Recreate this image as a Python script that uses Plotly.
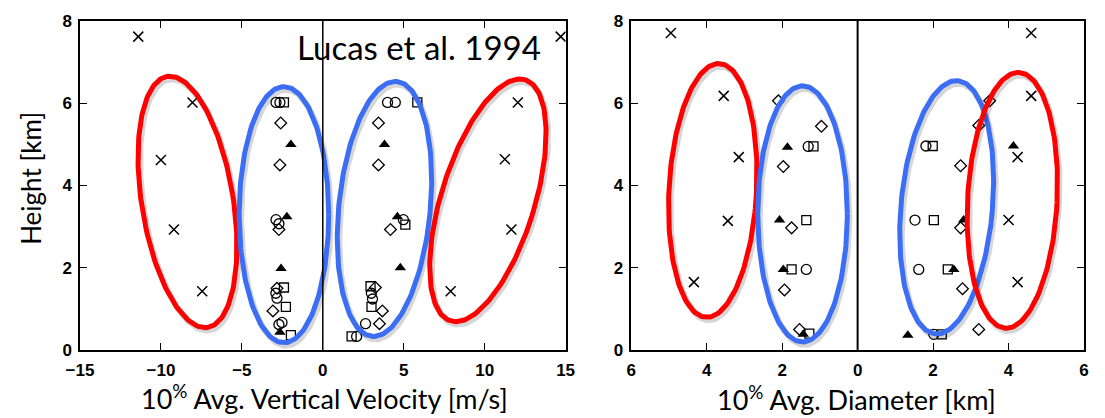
import numpy as np
import plotly.graph_objects as go

# ---------------- data: left panel (10% avg vertical velocity, m/s vs height, km)
vel_x_x = [-11.4, -8.05, -10.0, -9.2, -7.45, 14.7, 12.05, 11.25, 11.65, 7.9]
vel_x_y = [7.62, 6.02, 4.62, 2.93, 1.43, 7.62, 6.02, 4.64, 2.93, 1.43]
vel_circ_x = [-2.89, -2.65, 4.0, 4.48, -2.89, -2.71, -2.9, -2.83, -2.52, -2.71, 4.98, 3.0, 3.07, 2.64, 2.09]
vel_circ_y = [6.02, 6.02, 6.02, 6.02, 3.17, 3.07, 1.38, 1.26, 0.67, 0.62, 3.17, 1.38, 1.24, 0.64, 0.33]
vel_sq_x = [-2.4, 5.84, -2.4, -2.28, -1.97, 5.1, 2.95, 3.01, 1.78]
vel_sq_y = [6.02, 6.02, 1.52, 1.05, 0.36, 3.05, 1.55, 1.05, 0.33]
vel_dia_x = [-2.6, -2.65, -2.71, -2.83, -3.08, 3.44, 3.44, 4.18, 3.25, 3.68, 3.5]
vel_dia_y = [5.52, 4.5, 2.93, 1.5, 0.95, 5.52, 4.5, 2.93, 1.52, 0.95, 0.64]
vel_tri_x = [-1.97, -2.22, -2.58, -2.65, 3.81, 4.61, 4.79]
vel_tri_y = [5.0, 3.24, 1.98, 0.43, 5.0, 3.24, 2.0]

# ---------------- data: right panel (10% avg diameter, km; left half plotted as negative)
dia_x_x = [-4.95, -3.55, -3.15, -3.44, -4.34, 4.6, 4.6, 4.24, 4.0, 4.24]
dia_x_y = [7.71, 6.18, 4.69, 3.14, 1.65, 7.71, 6.18, 4.69, 3.16, 1.65]
dia_circ_x = [-1.31, -1.36, 1.81, 1.52, 1.62, 2.02]
dia_circ_y = [4.95, 1.96, 4.96, 3.16, 1.96, 0.38]
dia_sq_x = [-1.17, -1.36, -1.75, -1.28, 1.99, 2.02, 2.39, 2.23]
dia_sq_y = [4.95, 3.16, 1.96, 0.40, 4.96, 3.16, 1.96, 0.38]
dia_dia_x = [-2.10, -0.96, -1.97, -1.75, -1.94, -1.54, 3.5, 3.21, 2.73, 2.73, 2.78, 3.21]
dia_dia_y = [6.06, 5.44, 4.46, 2.97, 1.46, 0.5, 6.06, 5.46, 4.48, 2.97, 1.49, 0.5]
dia_tri_x = [-1.86, -2.07, -1.97, -1.44, 4.13, 2.81, 2.55, 1.33]
dia_tri_y = [4.93, 3.16, 1.96, 0.38, 4.96, 3.16, 1.96, 0.36]

vel_ticks = [-15, -10, -5, 0, 5, 10, 15]
dia_ticks = [-6, -4, -2, 0, 2, 4, 6]
dia_ticktext = ["6", "4", "2", "0", "2", "4", "6"]
height_ticks = [0, 2, 4, 6, 8]

# ---------------- highlight ellipses: (panel, colour, centre x, centre y)
ell_panel = ["L", "L", "L", "L", "R", "R", "R", "R"]
ell_color = ["red", "blue", "blue", "red", "red", "blue", "blue", "red"]
ell_cx = [-8.36, -2.4, 3.81, 10.2, -3.84, -1.46, 2.36, 4.1]
ell_cy = [3.6, 3.29, 3.43, 3.64, 3.88, 3.31, 3.47, 3.64]
ell_semi_major_px = [129, 130, 130, 128, 129, 130, 129, 130]
ell_semi_minor_px = [46, 45, 46, 47, 44, 45, 46, 45]
ell_tilt_deg = [-9, 0, 5.5, 17, 3, 0, 5, 3]

# ---------------- layout geometry
W, H = 1105, 418
ML, MR, MT, MB = 80, 16, 16, 68
PW = W - ML - MR
PH = H - MT - MB
left_dom = [0.0, (568 - ML) / PW]
right_dom = [(634 - ML) / PW, 1.0]
xr_left = [-15, 15]
xr_right = [-6, 6]
yr = [0, 8]

sx_left = (left_dom[1] - left_dom[0]) * PW / (xr_left[1] - xr_left[0])
sx_right = (right_dom[1] - right_dom[0]) * PW / (xr_right[1] - xr_right[0])
sy = PH / (yr[1] - yr[0])

def px_x(px):
    return (px - ML) / PW

def px_y(py):
    return (H - MB - py) / PH

COLORS = {"red": "#FF0000", "blue": "#3B6EF5"}

fig = go.Figure()

def add_markers(xv, yv, xa, ya, symbol, size, width=1.3):
    fig.add_trace(go.Scatter(
        x=xv, y=yv, xaxis=xa, yaxis=ya, mode="markers", hoverinfo="skip",
        marker=dict(symbol=symbol, size=size, color="black",
                    line=dict(color="black", width=width)),
        showlegend=False))

for xa, ya, dx, dy, cx, cy, sq, dd, tr in [
        ("x", "y", vel_x_x, vel_x_y, vel_circ_x, vel_circ_y, (vel_sq_x, vel_sq_y), (vel_dia_x, vel_dia_y), (vel_tri_x, vel_tri_y)),
        ("x2", "y2", dia_x_x, dia_x_y, dia_circ_x, dia_circ_y, (dia_sq_x, dia_sq_y), (dia_dia_x, dia_dia_y), (dia_tri_x, dia_tri_y))]:
    add_markers(dx, dy, xa, ya, "x-thin-open", 10, 1.5)
    add_markers(cx, cy, xa, ya, "circle-open", 10)
    add_markers(sq[0], sq[1], xa, ya, "square-open", 9)
    add_markers(dd[0], dd[1], xa, ya, "diamond-open", 9)
    add_markers(tr[0], tr[1], xa, ya, "triangle-up", 10, 0)

# ellipses (with a faint drop shadow)
t = np.linspace(0, 2 * np.pi, 200)
for i in range(len(ell_cx)):
    sxp = sx_left if ell_panel[i] == "L" else sx_right
    xa, ya = ("x", "y") if ell_panel[i] == "L" else ("x2", "y2")
    th = np.radians(ell_tilt_deg[i])
    u = ell_semi_minor_px[i] * np.cos(t)
    v = ell_semi_major_px[i] * np.sin(t)
    dxp = u * np.cos(th) + v * np.sin(th)
    dyp = -u * np.sin(th) + v * np.cos(th)
    ex = ell_cx[i] + dxp / sxp
    ey = ell_cy[i] + dyp / sy
    fig.add_trace(go.Scatter(x=ex + 2 / sxp, y=ey - 3 / sy, xaxis=xa, yaxis=ya, mode="lines",
                             line=dict(color="rgba(0,0,0,0.16)", width=6), hoverinfo="skip",
                             showlegend=False))
    fig.add_trace(go.Scatter(x=ex, y=ey, xaxis=xa, yaxis=ya, mode="lines",
                             line=dict(color=COLORS[ell_color[i]], width=5), hoverinfo="skip",
                             showlegend=False))

tickfont = dict(family="Liberation Sans", size=17, color="black", weight="bold")
axis_common = dict(showline=True, linecolor="black", linewidth=1.5, mirror="ticks",
                   ticks="inside", ticklen=7, tickwidth=1.3, tickcolor="black",
                   showgrid=False, zeroline=False, tickfont=tickfont)

ann_font = dict(family="Lato", color="black")

fig.update_layout(
    width=W, height=H, margin=dict(l=ML, r=MR, t=MT, b=MB),
    paper_bgcolor="white", plot_bgcolor="white",
    xaxis=dict(domain=left_dom, range=xr_left, tickvals=vel_ticks, anchor="y",
               ticklabelstandoff=4, **axis_common),
    yaxis=dict(domain=[0, 1], range=yr, tickvals=height_ticks, anchor="x",
               ticklabelstandoff=3, **axis_common),
    xaxis2=dict(domain=right_dom, range=xr_right, tickvals=dia_ticks, ticktext=dia_ticktext,
                anchor="y2", ticklabelstandoff=4, **axis_common),
    yaxis2=dict(domain=[0, 1], range=yr, tickvals=height_ticks, anchor="x2",
                ticklabelstandoff=3, **axis_common),
    shapes=[
        dict(type="line", xref="x", yref="y", x0=0, x1=0, y0=0, y1=8,
             line=dict(color="black", width=1.5)),
        dict(type="line", xref="x2", yref="y2", x0=0, x1=0, y0=0, y1=8,
             line=dict(color="black", width=2)),
    ],
    annotations=[
        dict(text="Height [km]", xref="paper", yref="paper", x=px_x(30), y=px_y(176),
             xanchor="center", yanchor="middle",
             textangle=-90, showarrow=False, font=dict(size=26, **ann_font)),
        dict(text="10<sup>%</sup> Avg. Vertical Velocity [m/s]", xref="paper", yref="paper",
             x=px_x(326), y=px_y(398), xanchor="center", yanchor="middle", showarrow=False,
             font=dict(size=27, **ann_font)),
        dict(text="10<sup>%</sup> Avg. Diameter [km]", xref="paper", yref="paper",
             x=px_x(860), y=px_y(399), xanchor="center", yanchor="middle", showarrow=False,
             font=dict(size=27, **ann_font)),
        dict(text="Lucas et al. 1994", xref="paper", yref="paper",
             x=px_x(421), y=px_y(42), xanchor="center", yanchor="middle", showarrow=False,
             font=dict(size=33, **ann_font)),
    ],
)

fig.write_html("out.html")
